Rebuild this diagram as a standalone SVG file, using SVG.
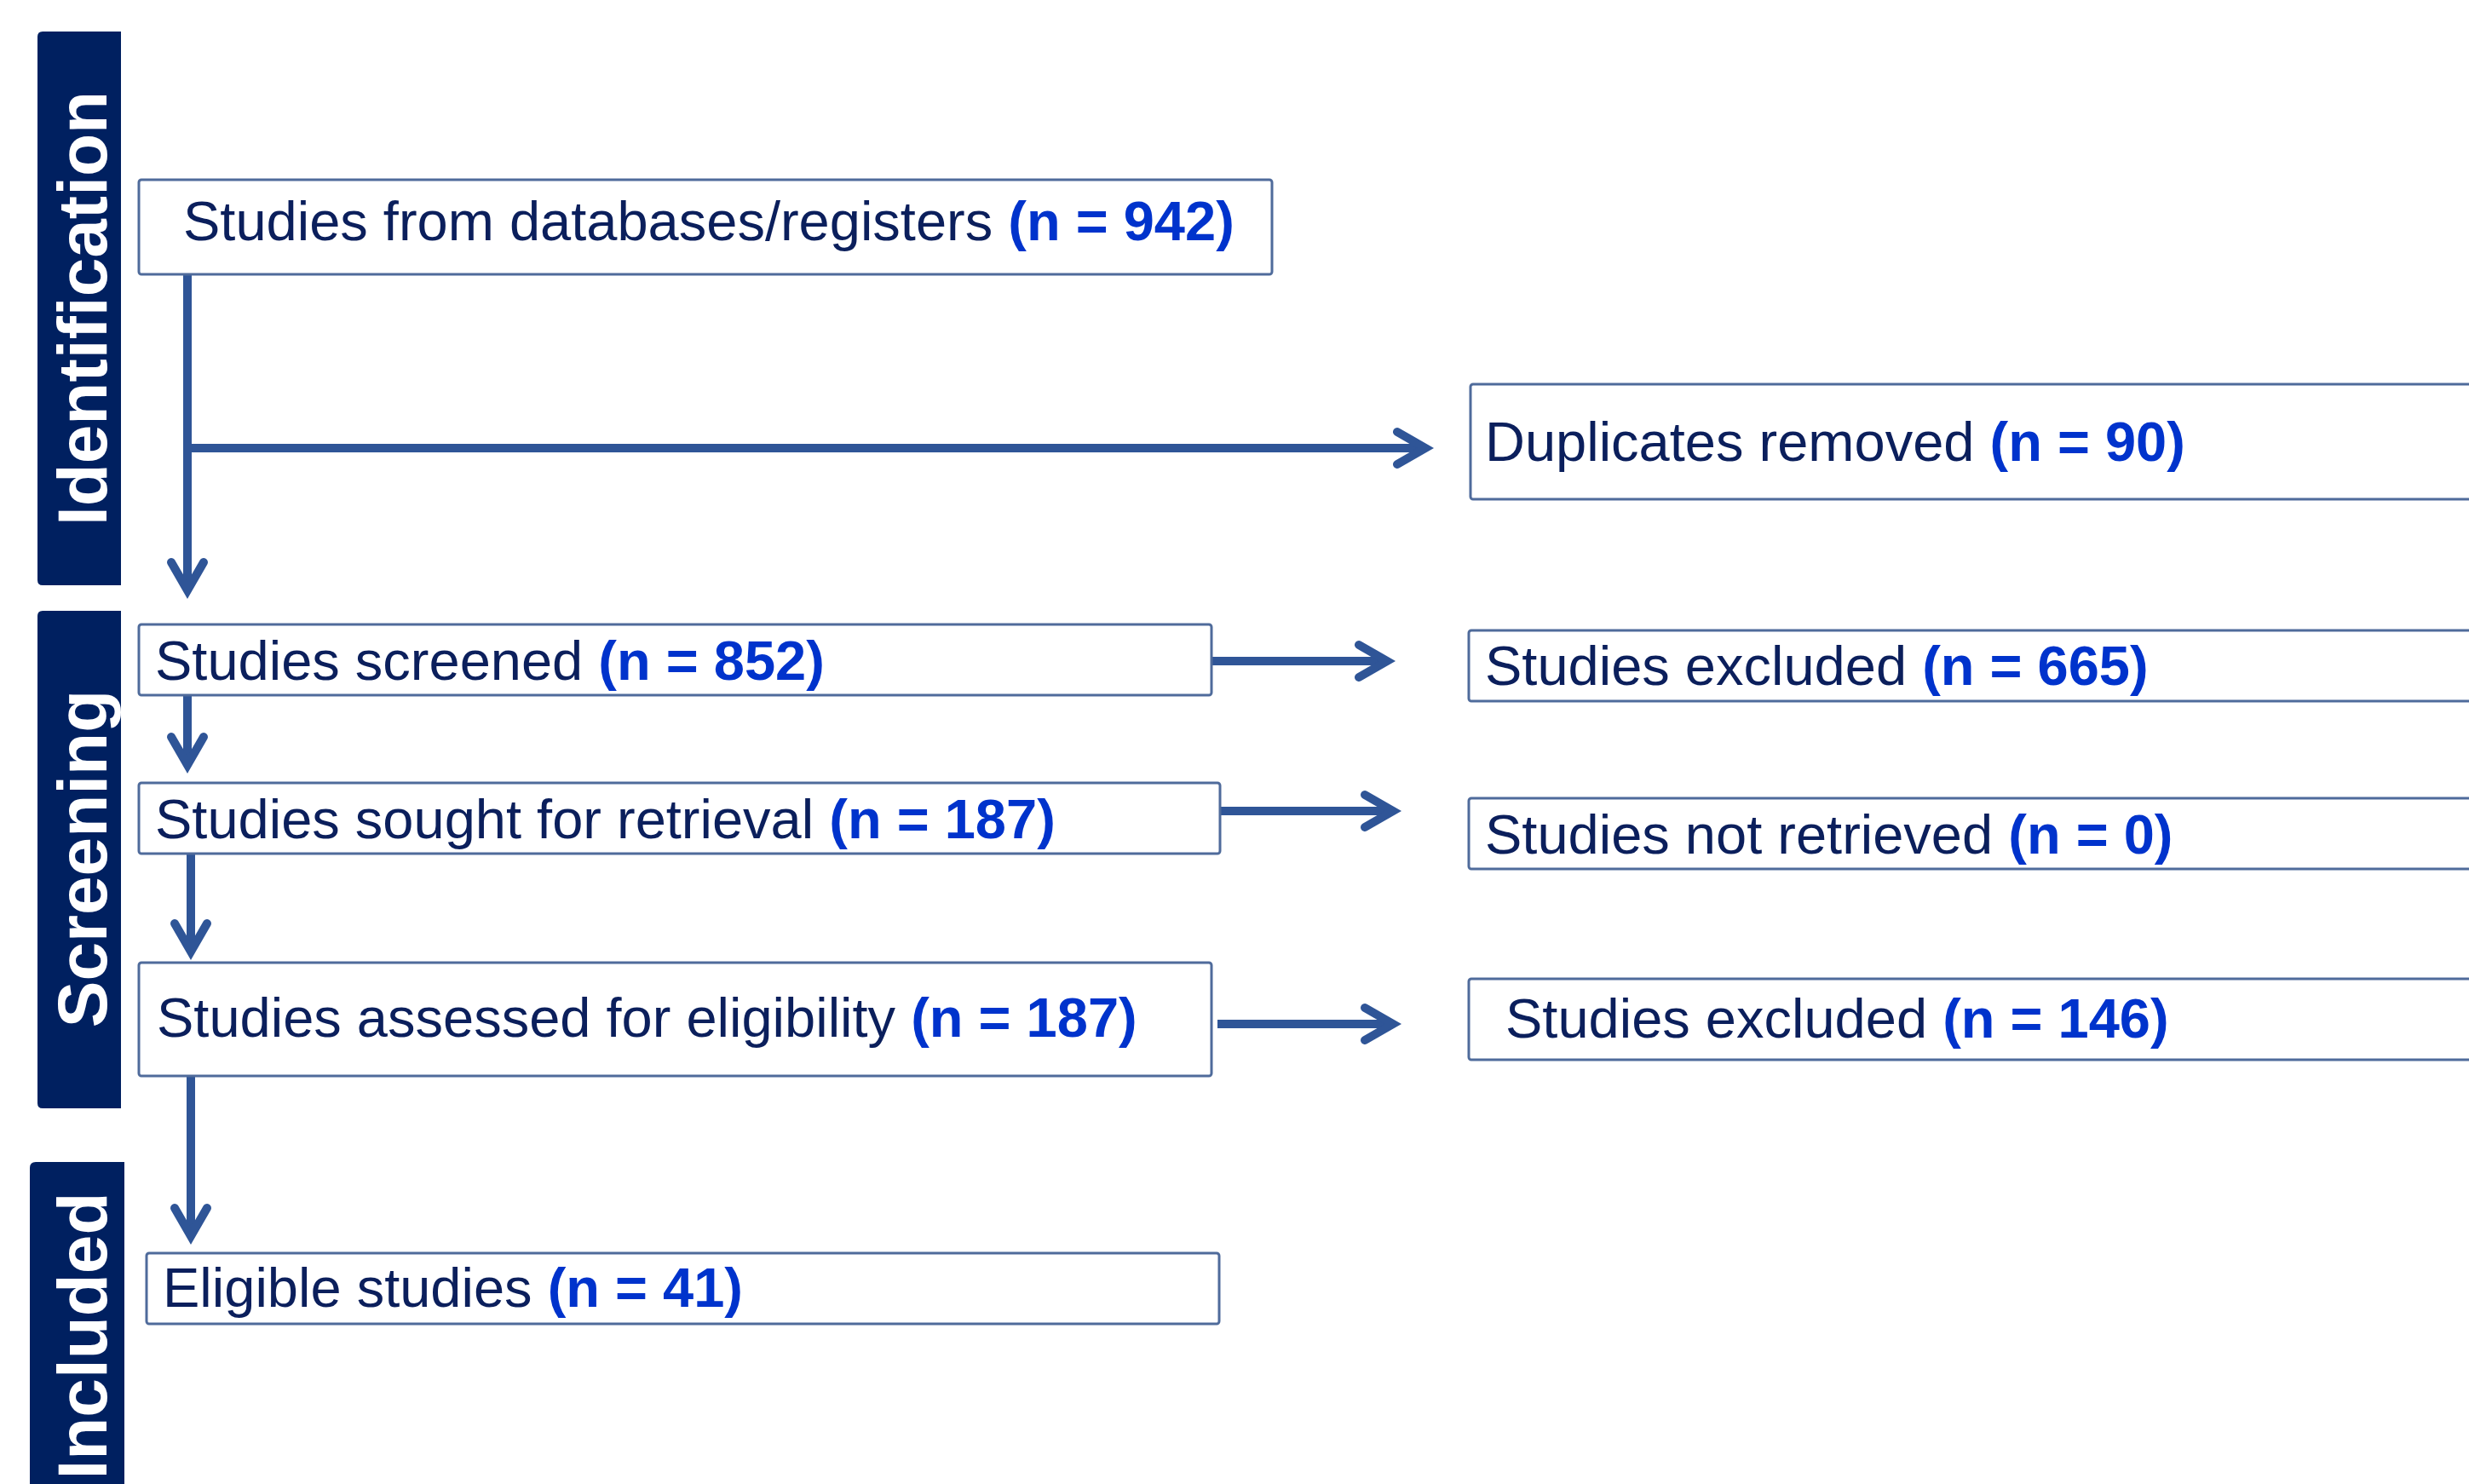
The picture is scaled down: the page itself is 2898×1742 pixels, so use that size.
<svg xmlns="http://www.w3.org/2000/svg" width="2898" height="1742" viewBox="0 0 2898 1742">
<defs>
<style>
.box{fill:#ffffff;stroke:#4f6b9b;stroke-width:3}
.t{font-family:"Liberation Sans",Arial,sans-serif;font-size:65px;fill:#0b1f5c}
.n{font-weight:bold;fill:#0033cc}
.side{fill:#002060}
.st{font-family:"Liberation Sans",Arial,sans-serif;font-size:82px;font-weight:bold;fill:#ffffff;text-anchor:middle}
.c{stroke:#2f5597;stroke-width:10;fill:none}
</style>
<marker id="ah" markerUnits="userSpaceOnUse" viewBox="-60 -30 70 60" markerWidth="70" markerHeight="60" refX="-12" refY="0" orient="auto">
<path d="M -43 -19 L -10 0 L -43 19" fill="none" stroke="#2f5597" stroke-width="10" stroke-linecap="round" stroke-linejoin="miter" stroke-miterlimit="10"/>
</marker>
</defs>
<rect width="2898" height="1742" fill="#ffffff"/>

<g id="phase-identification">
<path class="side" d="M 50 37 H 142 V 687 H 50 Q 44 687 44 681 V 43 Q 44 37 50 37 Z"/>
<text class="st" transform="translate(125,362) rotate(-90)">Identification</text>
</g>
<g id="phase-screening">
<path class="side" d="M 50 717 H 142 V 1301 H 50 Q 44 1301 44 1295 V 723 Q 44 717 50 717 Z"/>
<text class="st" transform="translate(125,1008) rotate(-90)">Screening</text>
</g>
<g id="phase-included">
<path class="side" d="M 42 1364 H 146 V 1750 H 35 V 1371 Q 35 1364 42 1364 Z"/>
<text class="st" transform="translate(125,1568) rotate(-90)">Included</text>
</g>

<g id="connectors">
<path class="c" d="M 220 322 V 691" marker-end="url(#ah)"/>
<path class="c" d="M 220 526 H 1671" marker-end="url(#ah)"/>
<path class="c" d="M 1422 776 H 1626" marker-end="url(#ah)"/>
<path class="c" d="M 220 816 V 896" marker-end="url(#ah)"/>
<path class="c" d="M 1432 952 H 1633" marker-end="url(#ah)"/>
<path class="c" d="M 224 1002 V 1115" marker-end="url(#ah)"/>
<path class="c" d="M 1429 1202 H 1633" marker-end="url(#ah)"/>
<path class="c" d="M 224 1263 V 1449" marker-end="url(#ah)"/>
</g>

<g id="node-databases">
<rect class="box" x="163" y="211" width="1330" height="111" rx="3"/>
<text class="t" x="215" y="282">Studies from databases/registers <tspan class="n">(n = 942)</tspan></text>
</g>
<g id="node-duplicates">
<rect class="box" x="1726" y="451" width="1200" height="135" rx="3"/>
<text class="t" x="1743" y="541">Duplicates removed <tspan class="n">(n = 90)</tspan></text>
</g>
<g id="node-screened">
<rect class="box" x="163" y="733" width="1259" height="83" rx="3"/>
<text class="t" x="182" y="798">Studies screened <tspan class="n">(n = 852)</tspan></text>
</g>
<g id="node-excluded-665">
<rect class="box" x="1724" y="740" width="1200" height="83" rx="3"/>
<text class="t" x="1743" y="804">Studies excluded <tspan class="n">(n = 665)</tspan></text>
</g>
<g id="node-sought">
<rect class="box" x="163" y="919" width="1269" height="83" rx="3"/>
<text class="t" x="182" y="984">Studies sought for retrieval <tspan class="n">(n = 187)</tspan></text>
</g>
<g id="node-not-retrieved">
<rect class="box" x="1724" y="937" width="1200" height="83" rx="3"/>
<text class="t" x="1743" y="1002">Studies not retrieved <tspan class="n">(n = 0)</tspan></text>
</g>
<g id="node-assessed">
<rect class="box" x="163" y="1130" width="1259" height="133" rx="3"/>
<text class="t" x="184" y="1217">Studies assessed for eligibility <tspan class="n">(n = 187)</tspan></text>
</g>
<g id="node-excluded-146">
<rect class="box" x="1724" y="1149" width="1200" height="95" rx="3"/>
<text class="t" x="1767" y="1218">Studies excluded <tspan class="n">(n = 146)</tspan></text>
</g>
<g id="node-eligible">
<rect class="box" x="172" y="1471" width="1259" height="83" rx="3"/>
<text class="t" x="191" y="1534">Eligible studies <tspan class="n">(n = 41)</tspan></text>
</g>
</svg>
